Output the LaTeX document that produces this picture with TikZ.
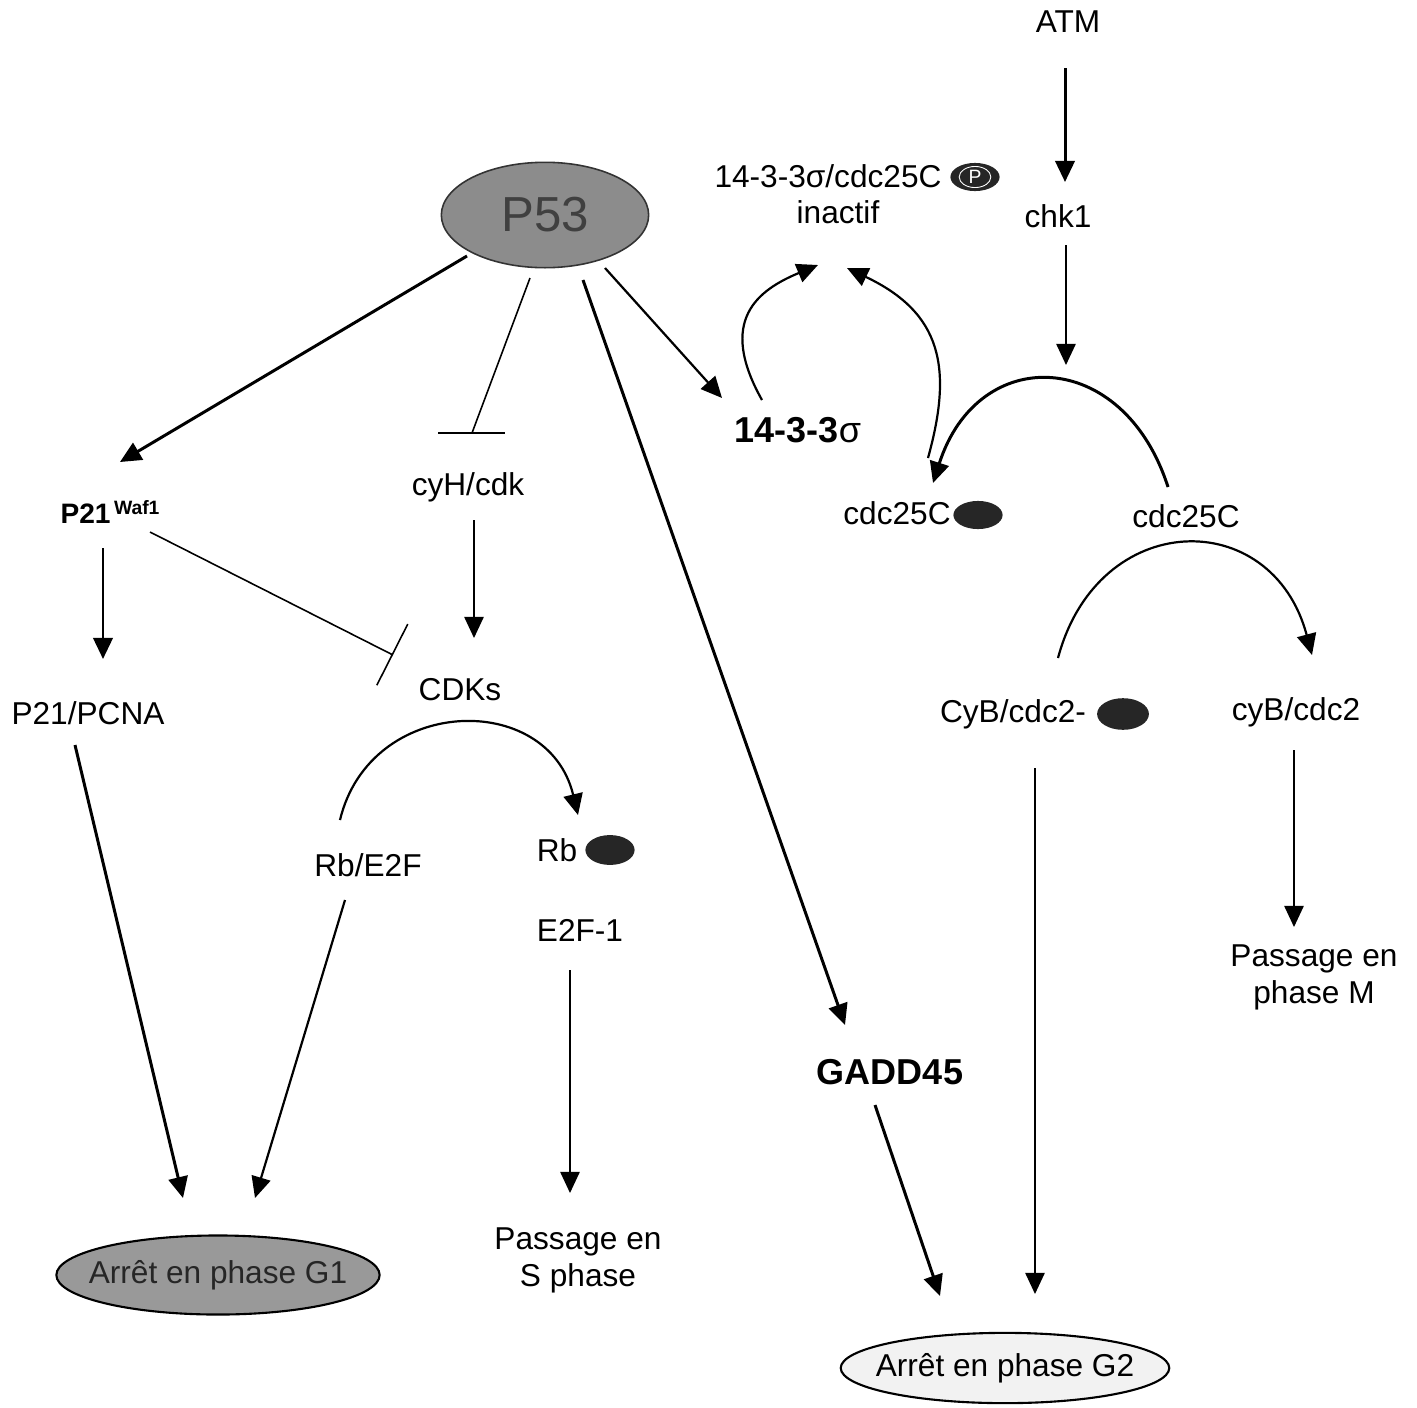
\documentclass[tikz,border=0pt]{standalone}
\usepackage{fontspec}
\setmainfont{Liberation Sans}
\usetikzlibrary{calc,arrows.meta,shapes.geometric}

\begin{document}
\begin{tikzpicture}[x=0.02cm,y=-0.02cm,line width=0.9pt,>={Triangle[length=12pt,width=11pt]},
  lbl/.style={inner sep=1pt,font=\fontsize{18}{21}\selectfont},
  blbl/.style={inner sep=1pt,font=\fontsize{20.5}{24}\selectfont\bfseries},
  phos/.style={ellipse,fill=black!85,inner sep=0pt,minimum width=28pt,minimum height=16pt},
  phase/.style={ellipse,draw,line width=1.2pt,inner sep=0pt},
  thickline/.style={line width=1.7pt},
  midline/.style={line width=1.25pt},
  inh/.style={-{Bar[width=39pt]}}]
  \useasboundingbox (0,0) rectangle (1417,1407);
  % top right: ATM / chk1 / cdc25C
  \node[lbl] (atm) at (1068,22) {ATM};
  \node[lbl] (cplx) at (828,176) {14-3-3σ/cdc25C};
  \node[phos] (phA) at (975,177) {};
  \draw[white,line width=0.5pt] (phA) circle[x radius=9pt,y radius=6pt];
  \node[white,inner sep=0pt,font=\fontsize{11}{11}\selectfont] at (phA) {P};
  \node[lbl] (inact) at (838,212) {inactif};
  \node[lbl] (chk) at (1058,216) {chk1};
  \node[ellipse,draw=black!80,fill=black!45,minimum width=118pt,minimum height=60pt,
        font=\fontsize{28}{30}\selectfont,text=black!75] (p53) at (545,215) {P53};
  \node[blbl] (s1433) at (798,430) {14-3-3\textmd{σ}};
  \node[lbl] (cdcP) at (897,513) {cdc25C};
  \node[phos] (phB) at (978,515) {};
  \node[lbl] (cdc) at (1186,516) {cdc25C};
  \node[lbl] (cyBP) at (1013,714) {CyB/cdc2-};
  \node[phos,minimum width=29.5pt,minimum height=18pt] (phC) at (1123,714) {};
  \node[lbl] (cyB) at (1296,712) {cyB/cdc2};
  \node[lbl,align=center] (passM) at (1314,977) {Passage en\\phase M};
  \node[blbl] (gadd) at (890,1072) {GADD45};
  \node[phase,fill=black!5,minimum width=187pt,minimum height=40pt,
        label={[font=\fontsize{18}{21}\selectfont]center:Arrêt en phase G2}] (g2) at (1005,1368) {};
  % left part
  \node[lbl] (cyh) at (468,487) {cyH/cdk};
  \node[inner sep=1pt,font=\fontsize{16}{19}\selectfont\bfseries] (p21) at (110,512)
        {P21\hspace{2pt}\raisebox{5pt}{\fontsize{11}{13}\selectfont Waf1}};
  \node[lbl] (cdks) at (460,690) {CDKs};
  \node[lbl] (pcna) at (88,713) {P21/PCNA};
  \node[lbl] (rbe2f) at (368,865) {Rb/E2F};
  \node[lbl] (rb) at (557,850) {Rb};
  \node[phos,minimum height=17pt] (phD) at (610,850) {};
  \node[lbl] (e2f) at (580,930) {E2F-1};
  \node[lbl,align=center] (passS) at (578,1260) {Passage en\\S phase};
  \node[phase,fill=black!40,minimum width=184pt,minimum height=45pt,
        label={[font=\fontsize{18}{21}\selectfont,text=black!85]center:Arrêt en phase G1}] (g1) at (218,1275) {};
  % connectors
  \draw[thickline,->] ($(atm)+(-3,46)$) -- ($(chk)+(7,-34)$);
  \draw[->] ($(chk)+(8,29)$) -- ($(chk)+(8,149)$);
  \draw[thickline,->] ($(p53)+(-78,41)$) -- ($(p21)+(10,-50)$);
  \draw ($(p53)+(-15,63)$) -- ($(cyh)+(4,-54)$);
  \draw ($(cyh)+(-30,-54)$) -- ($(cyh)+(37,-54)$);
  \draw[thickline,->] ($(p53)+(38,65)$) -- ($(gadd)+(-45,-47)$);
  \draw[midline,->] ($(p53)+(60,53)$) -- ($(s1433)+(-76,-32)$);
  \draw[midline,->] ($(s1433)+(-36,-30)$) .. controls +(-45,-80) and +(-60,25) .. ($(inact)+(-20,53)$);
  \draw[midline,->] ($(cdcP)+(31,-55)$) .. controls +(25,-90) and +(95,45) .. ($(inact)+(9,56)$);
  \draw[thickline,->] ($(cdc)+(-18,-29)$) .. controls +(-45,-140) and +(45,-140) .. ($(cdcP)+(36,-30)$);
  \draw[midline,->] ($(cyBP)+(45,-56)$) .. controls +(40,-150) and +(-40,-150) .. ($(cyB)+(16,-57)$);
  \draw[->] ($(cyB)+(-2,38)$) -- ($(passM)+(-20,-50)$);
  \draw[->] ($(cyBP)+(22,54)$) -- ($(g2)+(30,-74)$);
  \draw[thickline,->] ($(gadd)+(-15,33)$) -- ($(g2)+(-65,-72)$);
  \draw[->] ($(cyh)+(6,33)$) -- ($(cdks)+(14,-52)$);
  \draw[thickline,->] ($(p21)+(-7,36)$) -- ($(pcna)+(15,-54)$);
  \draw[inh] ($(p21)+(40,20)$) -- ($(cdks)+(-67,-35)$);
  \draw[midline,->] ($(rbe2f)+(-28,-45)$) .. controls +(30,-125) and +(-30,-125) .. ($(rb)+(21,-35)$);
  \draw[->] ($(e2f)+(-10,40)$) -- ($(passS)+(-8,-67)$);
  \draw[thickline,->] ($(pcna)+(-13,32)$) -- ($(g1)+(-35,-77)$);
  \draw[midline,->] ($(rbe2f)+(-23,35)$) -- ($(g1)+(37,-77)$);
\end{tikzpicture}
\end{document}
